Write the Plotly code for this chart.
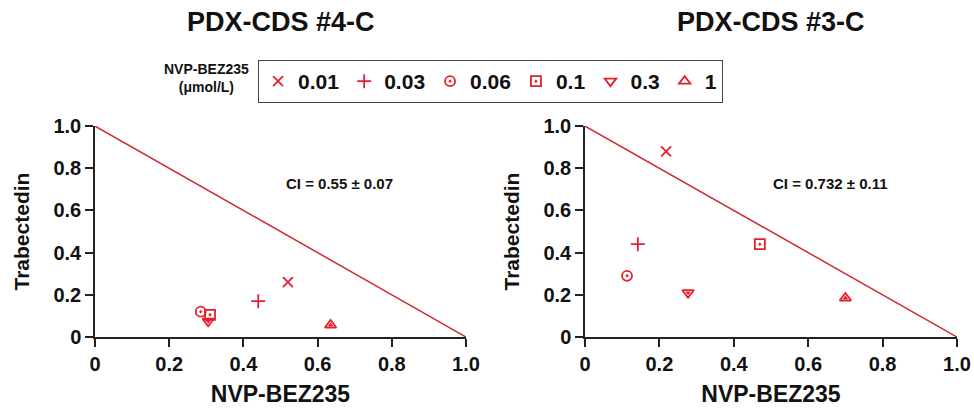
import plotly.graph_objects as go

# ---- data ----
concentrations = ["0.01", "0.03", "0.06", "0.1", "0.3", "1"]
symbols = ["x-thin-open", "cross-thin-open", "circle-open-dot", "square-open-dot",
           "triangle-down-open", "triangle-up-open"]
left_x = [0.52, 0.44, 0.285, 0.31, 0.305, 0.635]
left_y = [0.26, 0.17, 0.12, 0.105, 0.075, 0.057]
right_x = [0.218, 0.142, 0.113, 0.47, 0.277, 0.70]
right_y = [0.88, 0.44, 0.29, 0.44, 0.21, 0.185]
additive_x = [0, 1]
additive_y = [1, 0]
tick_vals = [0, 0.2, 0.4, 0.6, 0.8, 1.0]
tick_text = ["0", "0.2", "0.4", "0.6", "0.8", "1.0"]
titles = ["PDX-CDS #4-C", "PDX-CDS #3-C"]
ci_texts = ["CI = 0.55 ± 0.07", "CI = 0.732 ± 0.11"]

RED = "#e3202b"
LINE_RED = "#cc2b33"
FONT = "Liberation Sans, Arial, sans-serif"

fig = go.Figure()

panels = [("x", "y", left_x, left_y), ("x2", "y2", right_x, right_y)]
for p, (xa, ya, xs, ys) in enumerate(panels):
    fig.add_trace(go.Scatter(x=additive_x, y=additive_y, mode="lines",
                             line=dict(color=LINE_RED, width=1.5),
                             xaxis=xa, yaxis=ya, showlegend=False, hoverinfo="skip"))
    for i, c in enumerate(concentrations):
        fig.add_trace(go.Scatter(
            x=[xs[i]], y=[ys[i]], mode="markers", name=c, legendgroup=c,
            showlegend=(p == 0), xaxis=xa, yaxis=ya,
            marker=dict(symbol=symbols[i], size=10, color=RED,
                        line=dict(color=RED, width=1.8))))
        if symbols[i].startswith("triangle"):
            fig.add_trace(go.Scatter(
                x=[xs[i]], y=[ys[i]], mode="markers", legendgroup=c,
                showlegend=False, xaxis=xa, yaxis=ya, hoverinfo="skip",
                marker=dict(symbol=symbols[i].replace("-open", ""), size=5, color=RED)))

axis_common = dict(range=[0, 1], tickvals=tick_vals, ticktext=tick_text,
                   showgrid=False, zeroline=False, showline=True, automargin=False,
                   linecolor="#222", linewidth=1.5, ticks="outside",
                   ticklen=8, tickwidth=1.5, tickcolor="#222",
                   tickfont=dict(family=FONT, size=20, color="#111", weight="bold"))
xtitle_font = dict(family=FONT, size=23, color="#111", weight="bold")
ytitle_font = dict(family=FONT, size=21, color="#111", weight="bold")

ydom = [0.182, 0.694]
fig.update_layout(
    width=974, height=412,
    margin=dict(l=0, r=0, t=0, b=0, autoexpand=False),
    paper_bgcolor="white", plot_bgcolor="white",
    xaxis=dict(domain=[95/974, 466/974], anchor="y",
               title=dict(text="NVP-BEZ235", font=xtitle_font, standoff=12), **axis_common),
    yaxis=dict(domain=ydom, anchor="x",
               title=dict(text="Trabectedin", font=ytitle_font, standoff=18), **axis_common),
    xaxis2=dict(domain=[585/974, 957/974], anchor="y2",
                title=dict(text="NVP-BEZ235", font=xtitle_font, standoff=12), **axis_common),
    yaxis2=dict(domain=ydom, anchor="x2",
                title=dict(text="Trabectedin", font=ytitle_font, standoff=18), **axis_common),
    legend=dict(orientation="h", x=258/974, y=(412-60)/412, xanchor="left", yanchor="top",
                bordercolor="#444", borderwidth=1, bgcolor="white",
                font=dict(family=FONT, size=21, color="#111", weight="bold"),
                itemwidth=30, tracegroupgap=0),
    showlegend=True,
)

for p, xa in enumerate(["x", "x2"]):
    ya = "y" if xa == "x" else "y2"
    fig.add_annotation(text=titles[p], xref=f"{xa} domain", yref="paper",
                       x=0.5, y=(412-22)/412, showarrow=False,
                       xanchor="center", yanchor="middle",
                       font=dict(family=FONT, size=27, color="#111", weight="bold"))
    fig.add_annotation(text=ci_texts[p], xref=xa, yref=ya, x=0.66, y=0.73,
                       showarrow=False, xanchor="center", yanchor="middle",
                       font=dict(family=FONT, size=15, color="#111", weight="bold"))

fig.add_annotation(text="NVP-BEZ235<br>(μmol/L)", xref="paper", yref="paper",
                   x=206/974, y=(412-78)/412, showarrow=False, xanchor="center",
                   yanchor="middle", align="center",
                   font=dict(family=FONT, size=14, color="#111", weight="bold"))

fig.write_html("out.html", config={"displayModeBar": False},
               post_script="document.body.style.margin='0';")
